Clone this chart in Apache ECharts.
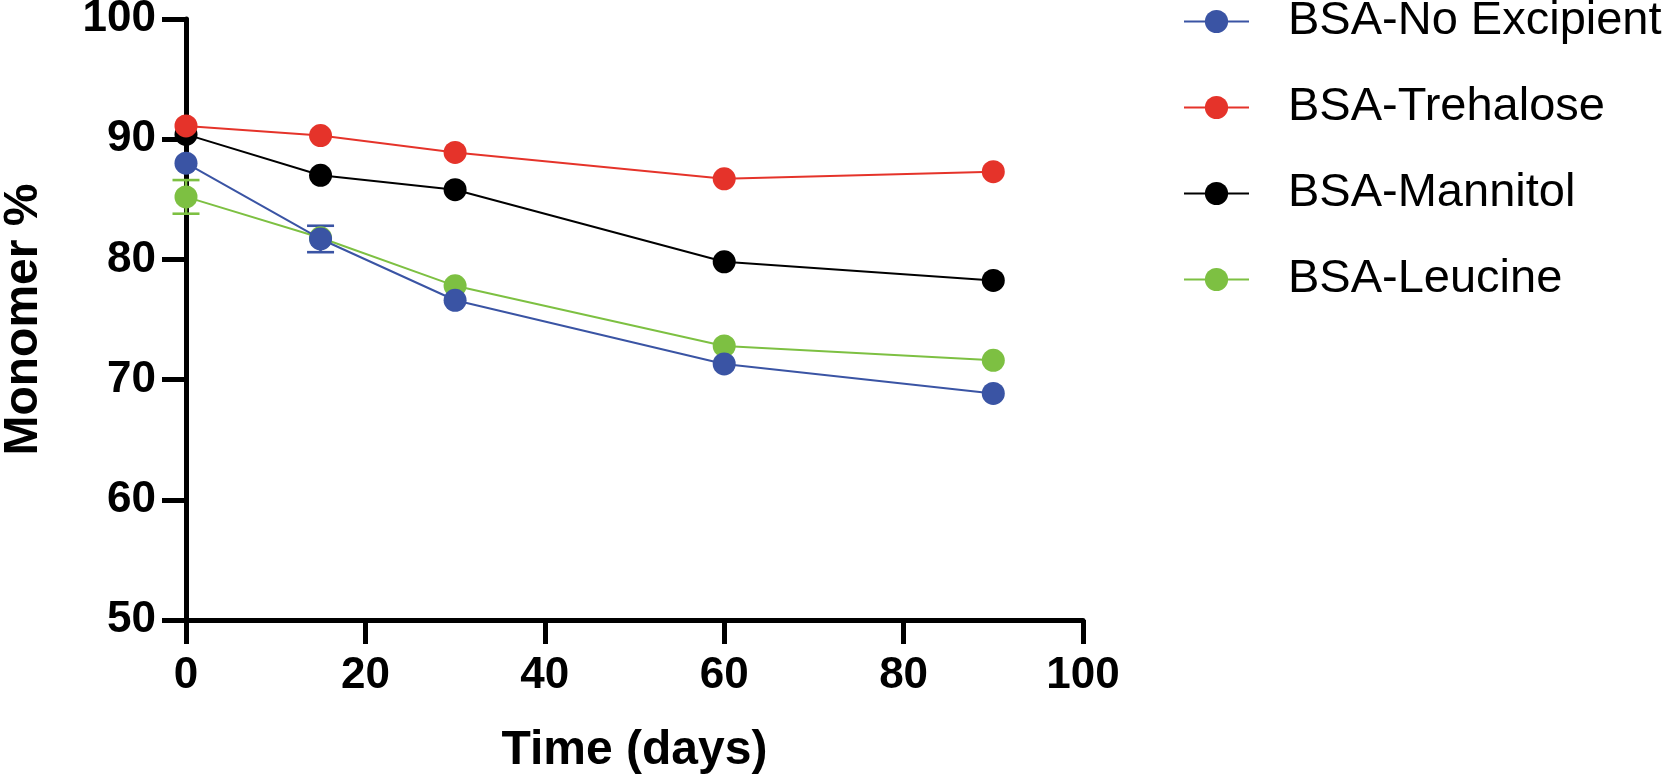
<!DOCTYPE html>
<html><head><meta charset="utf-8">
<script src="https://cdn.jsdelivr.net/npm/echarts@6/dist/echarts.min.js"></script>
<style>html,body{margin:0;padding:0;background:#fff}#c{width:1668px;height:781px}</style>
</head><body><div id="c"></div>
<script>
const days = [0, 15, 30, 60, 90];
const seriesNames = ['BSA-No Excipient', 'BSA-Trehalose', 'BSA-Mannitol', 'BSA-Leucine'];
const noExcipient = [88.0, 81.7, 76.6, 71.3, 68.85];
const trehalose = [91.1, 90.3, 88.9, 86.7, 87.3];
const mannitol = [90.4, 87.0, 85.8, 79.8, 78.25];
const leucine = [85.2, 81.8, 77.8, 72.8, 71.6];
const noExcipientErr = [0, 1.1, 0, 0, 0];
const trehaloseErr = [0, 0, 0, 0, 0];
const mannitolErr = [0, 0, 0, 0, 0];
const leucineErr = [1.4, 0, 0, 0, 0];
const xTicks = [0, 20, 40, 60, 80, 100];
const yTicks = [50, 60, 70, 80, 90, 100];
const colors = ['#3a54a4', '#e5332a', '#000000', '#7dc042'];

const FONT = '"Liberation Sans", Arial, Helvetica, sans-serif';
const values = [noExcipient, trehalose, mannitol, leucine];
const errs = [noExcipientErr, trehaloseErr, mannitolErr, leucineErr];
const zs = [4, 4, 3, 3];

function pairs(v) { return days.map((d, i) => [d, v[i]]); }

function errSeries(idx) {
  const color = colors[idx];
  const data = days.map((d, i) => [d, values[idx][i] - errs[idx][i], values[idx][i] + errs[idx][i]]);
  return {
    type: 'custom', name: 'err' + idx, z: 1, silent: true,
    data: data,
    encode: { x: 0, y: [1, 2] },
    renderItem: function (params, api) {
      const x = api.value(0), lo = api.value(1), hi = api.value(2);
      if (hi - lo <= 0) return null;
      const a = api.coord([x, lo]), b = api.coord([x, hi]);
      const w = 13.5;
      const st = { stroke: color, lineWidth: 2.6 };
      return {
        type: 'group', children: [
          { type: 'line', shape: { x1: a[0], y1: a[1], x2: b[0], y2: b[1] }, style: st },
          { type: 'line', shape: { x1: a[0] - w, y1: a[1], x2: a[0] + w, y2: a[1] }, style: st },
          { type: 'line', shape: { x1: b[0] - w, y1: b[1], x2: b[0] + w, y2: b[1] }, style: st }
        ]
      };
    }
  };
}

const series = [];
for (let i = 0; i < 4; i++) series.push(errSeries(i));
for (let i = 0; i < 4; i++) {
  series.push({
    type: 'line', name: seriesNames[i], data: pairs(values[i]), z: zs[i],
    symbol: 'circle', symbolSize: 23,
    lineStyle: { color: colors[i], width: 2 },
    itemStyle: { color: colors[i] }
  });
}

const chart = echarts.init(document.getElementById('c'), null, { renderer: 'canvas' });
chart.setOption({
  animation: false,
  backgroundColor: '#ffffff',
  grid: { left: 186, right: 585, top: 19, bottom: 161, containLabel: false, outerBoundsMode: 'none' },
  legend: {
    data: seriesNames, orient: 'vertical', left: 1183, top: -2, padding: 0,
    itemWidth: 65, itemHeight: 29, itemGap: 39,
    textStyle: { fontSize: 47, lineHeight: 47, color: '#000', fontFamily: FONT, padding: [0, 0, 0, 34] }
  },
  xAxis: {
    type: 'value', min: xTicks[0], max: xTicks[xTicks.length - 1], interval: 20,
    name: 'Time (days)', nameLocation: 'middle', nameGap: 107,
    nameTextStyle: { fontSize: 48, fontWeight: 'bold', color: '#000', fontFamily: FONT },
    axisLine: { show: true, lineStyle: { color: '#000', width: 5 } },
    axisTick: { show: true, length: 24, lineStyle: { color: '#000', width: 5 } },
    axisLabel: { fontSize: 44, fontWeight: 'bold', color: '#000', fontFamily: FONT, margin: 34 },
    splitLine: { show: false }
  },
  yAxis: {
    type: 'value', min: yTicks[0], max: yTicks[yTicks.length - 1], interval: 10,
    name: 'Monomer %', nameLocation: 'middle', nameGap: 138,
    nameTextStyle: { fontSize: 48, fontWeight: 'bold', color: '#000', fontFamily: FONT },
    axisLine: { show: true, lineStyle: { color: '#000', width: 5 } },
    axisTick: { show: true, length: 24, lineStyle: { color: '#000', width: 5 } },
    axisLabel: { fontSize: 44, fontWeight: 'bold', color: '#000', fontFamily: FONT, margin: 30 },
    splitLine: { show: false }
  },
  series: series
});
</script>
</body></html>
